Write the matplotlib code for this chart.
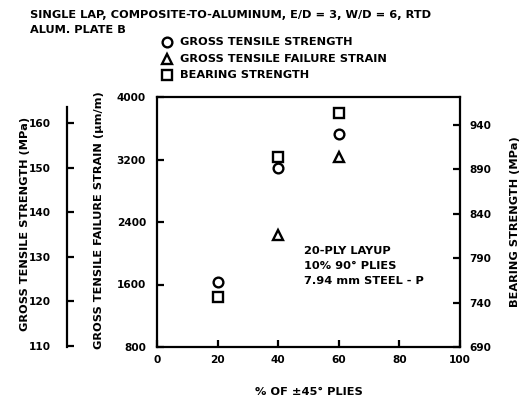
import matplotlib.pyplot as plt

# values
plies_45 = [20, 40, 60]
gross_strength_mpa = [124.3, 149.9, 157.5]      # circles, left axis
failure_strain = [2234, 3232]                    # triangles, middle axis
strain_plies = [40, 60]
bearing_strength_mpa = [746, 904, 953]           # squares, right axis

x_ticks = [0, 20, 40, 60, 80, 100]
strength_ticks = [110, 120, 130, 140, 150, 160]
strain_ticks = [800, 1600, 2400, 3200, 4000]
bearing_ticks = [690, 740, 790, 840, 890, 940]

title_lines = ["SINGLE LAP, COMPOSITE-TO-ALUMINUM, E/D = 3, W/D = 6, RTD",
               "ALUM. PLATE B"]
note_lines = ["20-PLY LAYUP", "10% 90\u00b0 PLIES", "7.94 mm STEEL - P"]
note_strain = [2030, 1838, 1646]

plt.rcParams['font.family'] = ['DejaVu Sans']
plt.rcParams['font.weight'] = 'bold'
FS = 8.2
TFS = 7.6   # tick labels

fig = plt.figure(figsize=(5.27, 4.01), dpi=100)
W, H = 527, 401
left, right, bottom, top = 157 / W, 460 / W, 1 - 347 / H, 1 - 97 / H
ax = fig.add_axes([left, bottom, right - left, top - bottom])
axw, axh = 303, 250

lw = 1.6
mk = dict(linestyle='none', markerfacecolor='none', markeredgecolor='black',
          markeredgewidth=1.7, markersize=7)

# middle (strain) axis + x axis
ax.set_xlim(0, 100)
ax.set_ylim(800, 4000)
ax.set_xticks(x_ticks)
ax.set_yticks(strain_ticks)
ax.tick_params(direction='in', length=5, width=lw, labelsize=TFS, pad=8)
ax.tick_params(axis='x', pad=6)
for s in ax.spines.values():
    s.set_linewidth(lw)
ax.spines['right'].set_visible(False)
ax.plot(strain_plies, failure_strain, marker='^', clip_on=False, **mk)
ax.set_xlabel("% OF \u00b145\u00b0 PLIES", fontsize=FS, fontweight='bold')
ax.xaxis.label.set_va('center')
ax.xaxis.set_label_coords(0.5, (347 - 392) / axh)
ax.set_ylabel("GROSS TENSILE FAILURE STRAIN (\u00b5m/m)", fontsize=FS, fontweight='bold')
ax.yaxis.label.set_va('center')
ax.yaxis.set_label_coords((99 - 157) / axw, (347 - 220) / axh)

# right (bearing) axis
ax_r = ax.twinx()
ax_r.set_ylim(690, 690 + 250 * 250 / 222)
ax_r.set_yticks(bearing_ticks)
ax_r.tick_params(direction='in', length=5, width=lw, labelsize=TFS, pad=7)
for k in ['left', 'top', 'bottom']:
    ax_r.spines[k].set_visible(False)
ax_r.spines['right'].set_linewidth(lw)
ax_r.plot(plies_45, bearing_strength_mpa, marker='s', clip_on=False, **mk)
ax_r.set_ylabel("BEARING STRENGTH (MPa)", fontsize=FS, fontweight='bold')
ax_r.yaxis.label.set_va('center')
ax_r.yaxis.set_label_coords((515 - 157) / axw, (347 - 222) / axh)

# far left (gross strength) axis
ax_l = ax.twinx()
lo = 110 - 1 / 4.46
ax_l.set_ylim(lo, lo + 250 / 4.46)
ax_l.set_yticks(strength_ticks)
for k in ['right', 'top', 'bottom']:
    ax_l.spines[k].set_visible(False)
ax_l.spines['left'].set_visible(True)
ax_l.spines['left'].set_position(('axes', -90 / axw))
ax_l.spines['left'].set_bounds(lo, 163.5)
ax_l.spines['left'].set_linewidth(lw)
ax_l.yaxis.set_ticks_position('left')
ax_l.yaxis.set_label_position('left')
ax_l.tick_params(direction='in', length=5, width=lw, labelsize=TFS, pad=12)
ax_l.plot(plies_45, gross_strength_mpa, marker='o', clip_on=False, **mk)
ax_l.set_ylabel("GROSS TENSILE STRENGTH (MPa)", fontsize=FS, fontweight='bold')
ax_l.yaxis.label.set_va('center')
ax_l.yaxis.set_label_coords((25 - 157) / axw, (347 - 224) / axh)

# title
for i, line in enumerate(title_lines):
    fig.text(30 / W, 1 - (15 + 15 * i) / H, line, fontsize=FS, fontweight='bold',
             ha='left', va='center')

# legend
leg_items = [('o', "GROSS TENSILE STRENGTH", 42),
             ('^', "GROSS TENSILE FAILURE STRAIN", 59),
             ('s', "BEARING STRENGTH", 75)]
for m, label, ypix in leg_items:
    fig.lines.append(plt.Line2D([167 / W], [1 - ypix / H], marker=m,
                                transform=fig.transFigure, **mk))
    fig.text(180 / W, 1 - ypix / H, label, fontsize=FS, fontweight='bold',
             ha='left', va='center')

# layup note
for i, line in enumerate(note_lines):
    ax.text(48.5, note_strain[i], line, fontsize=FS, fontweight='bold',
            ha='left', va='center')

fig.savefig("out.png", dpi=100)
